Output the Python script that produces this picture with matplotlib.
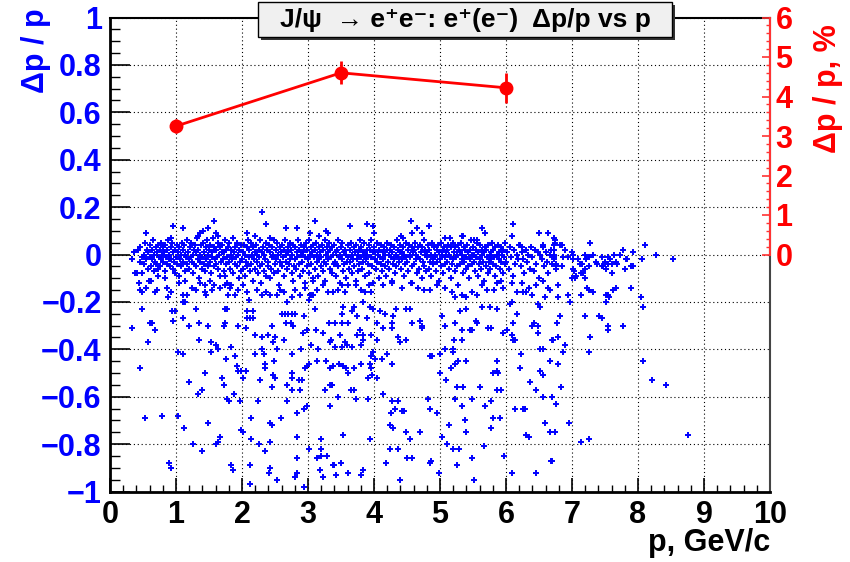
import matplotlib
matplotlib.use("Agg")
import matplotlib.pyplot as plt
from matplotlib.patches import Rectangle
import numpy as np

plt.rcParams['font.family'] = ['Liberation Sans', 'DejaVu Sans']
plt.rcParams['font.weight'] = 'bold'

# dense band around dp/p = 0  (p, dp/p)
band_pts = [
(0.34,-0.02),(0.37,0.01),(0.41,-0.08),(0.43,0.02),(0.45,-0.03),(0.46,0.03),(0.48,-0.01),(0.49,-0.08),
(0.51,0.00),(0.52,-0.04),(0.53,0.05),(0.55,-0.02),(0.56,0.02),(0.57,-0.06),(0.58,0.01),(0.59,-0.11),(0.55,-0.14),
(0.60,-0.01),(0.61,0.04),(0.62,-0.05),(0.63,0.02),(0.64,-0.02),(0.65,0.06),(0.66,-0.07),(0.67,0.00),(0.68,-0.03),(0.69,0.03),
(0.70,-0.04),(0.71,0.01),(0.72,-0.09),(0.73,0.04),(0.74,-0.01),(0.75,0.02),(0.76,-0.05),(0.77,0.05),(0.78,-0.02),(0.79,0.00),(0.73,-0.06),
(0.80,0.03),(0.81,-0.03),(0.82,0.01),(0.83,-0.07),(0.84,0.04),(0.85,-0.01),(0.86,0.02),(0.87,-0.04),(0.88,0.06),(0.89,-0.02),(0.84,-0.10),
(0.90,0.00),(0.91,-0.05),(0.92,0.03),(0.93,-0.02),(0.94,0.05),(0.95,-0.06),(0.96,0.01),(0.97,-0.03),(0.98,0.02),(0.99,-0.08),(0.93,0.07),
(1.00,-0.01),(1.01,0.04),(1.02,-0.04),(1.03,0.01),(1.04,-0.09),(1.05,0.03),(1.06,-0.02),(1.07,0.00),(1.08,-0.05),(1.09,0.05),(1.05,-0.12),
(1.10,0.02),(1.11,-0.03),(1.12,0.04),(1.13,-0.07),(1.14,0.00),(1.15,-0.01),(1.16,0.06),(1.17,-0.04),(1.18,0.01),(1.19,-0.02),(1.14,-0.11),
(1.20,-0.06),(1.21,0.03),(1.22,-0.01),(1.23,0.05),(1.24,-0.03),(1.25,0.00),(1.26,-0.08),(1.27,0.02),(1.28,-0.04),(1.29,0.04),
(1.30,0.01),(1.31,-0.05),(1.32,0.07),(1.33,-0.02),(1.34,0.02),(1.35,-0.10),(1.36,0.00),(1.37,-0.03),(1.38,0.04),(1.39,-0.06),(1.33,0.08),
(1.40,-0.01),(1.41,0.05),(1.42,-0.04),(1.43,0.01),(1.44,-0.07),(1.45,0.03),(1.46,-0.02),(1.47,0.06),(1.48,-0.05),(1.49,0.00),(1.44,-0.13),
(1.50,0.02),(1.51,-0.03),(1.52,0.04),(1.53,-0.08),(1.54,0.01),(1.55,-0.01),(1.56,0.07),(1.57,-0.05),(1.58,0.03),(1.59,-0.02),(1.52,-0.11),
(1.60,-0.04),(1.61,0.02),(1.62,-0.01),(1.63,0.05),(1.64,-0.06),(1.65,0.00),(1.66,-0.09),(1.67,0.03),(1.68,-0.03),(1.69,0.01),(1.64,0.08),
(1.70,0.04),(1.71,-0.02),(1.72,0.01),(1.73,-0.07),(1.74,0.06),(1.75,-0.04),(1.76,0.02),(1.77,-0.01),(1.78,-0.12),(1.79,0.03),(1.74,-0.09),
(1.80,-0.03),(1.81,0.05),(1.82,-0.06),(1.83,0.00),(1.84,0.02),(1.85,-0.02),(1.86,0.07),(1.87,-0.08),(1.88,0.01),(1.89,-0.04),(1.83,-0.13),
(1.90,0.03),(1.91,-0.01),(1.92,0.05),(1.93,-0.05),(1.94,0.00),(1.95,-0.10),(1.96,0.02),(1.97,-0.03),(1.98,0.04),(1.99,-0.07),
(2.00,-0.02),(2.01,0.01),(2.02,-0.06),(2.03,0.04),(2.04,-0.09),(2.05,0.00),(2.06,-0.03),(2.07,0.03),(2.08,-0.05),(2.09,0.06),
(2.10,-0.01),(2.11,0.02),(2.12,-0.07),(2.13,0.05),(2.14,-0.04),(2.15,0.00),(2.16,-0.11),(2.17,0.03),(2.18,-0.02),(2.19,0.01),
(2.20,-0.06),(2.21,0.04),(2.22,-0.03),(2.23,0.00),(2.24,-0.08),(2.25,0.02),(2.26,-0.01),(2.27,0.06),(2.28,-0.05),(2.29,-0.12),
(2.30,0.01),(2.31,-0.04),(2.32,0.03),(2.33,-0.07),(2.34,0.00),(2.35,-0.02),(2.36,0.05),(2.37,-0.09),(2.38,0.02),(2.39,-0.05),
(2.40,-0.03),(2.41,0.04),(2.42,-0.10),(2.43,0.01),(2.44,-0.06),(2.45,0.03),(2.46,-0.01),(2.47,0.00),(2.48,-0.08),(2.49,0.06),
(2.50,-0.04),(2.51,0.02),(2.52,-0.02),(2.53,0.05),(2.54,-0.07),(2.55,0.00),(2.56,-0.13),(2.57,0.03),(2.58,-0.03),(2.59,0.01),
(2.60,-0.05),(2.61,0.04),(2.62,-0.01),(2.63,0.02),(2.64,-0.09),(2.65,0.06),(2.66,-0.03),(2.67,0.00),(2.68,-0.06),(2.69,0.03),
(2.70,0.01),(2.71,-0.04),(2.72,0.05),(2.73,-0.02),(2.74,0.02),(2.75,-0.08),(2.76,0.00),(2.77,-0.11),(2.78,0.04),(2.79,-0.05),
(2.80,-0.02),(2.81,0.03),(2.82,-0.06),(2.83,0.01),(2.84,-0.01),(2.85,0.06),(2.86,-0.04),(2.87,0.02),(2.88,-0.09),(2.89,0.00),
(2.90,0.04),(2.91,-0.03),(2.92,0.01),(2.93,-0.07),(2.94,0.03),(2.95,-0.01),(2.96,-0.12),(2.97,0.05),(2.98,-0.05),(2.99,0.02),
(3.00,-0.02),(3.01,0.06),(3.02,-0.08),(3.03,0.00),(3.04,0.03),(3.05,-0.04),(3.06,0.01),(3.07,-0.10),(3.08,0.04),(3.09,-0.01),
(3.10,0.02),(3.11,-0.06),(3.12,0.05),(3.13,-0.03),(3.14,0.00),(3.15,-0.09),(3.16,0.03),(3.17,-0.02),(3.18,0.01),(3.19,-0.05),
(3.20,-0.01),(3.21,0.04),(3.22,-0.07),(3.23,0.02),(3.24,-0.03),(3.25,0.06),(3.26,-0.11),(3.27,0.00),(3.28,-0.04),(3.29,0.03),
(3.30,0.01),(3.31,-0.02),(3.32,0.05),(3.33,-0.06),(3.34,0.02),(3.35,-0.01),(3.36,0.03),(3.37,-0.08),(3.38,0.00),(3.39,-0.04),
(3.40,0.04),(3.41,-0.03),(3.42,0.01),(3.43,-0.09),(3.44,0.02),(3.45,-0.05),(3.46,0.06),(3.47,-0.01),(3.48,0.00),(3.49,-0.12),
(3.50,0.03),(3.51,-0.02),(3.52,0.05),(3.53,-0.07),(3.54,0.01),(3.55,-0.04),(3.56,0.02),(3.57,-0.10),(3.58,0.00),(3.59,-0.03),
(3.60,0.04),(3.61,-0.01),(3.62,-0.06),(3.63,0.02),(3.64,-0.03),(3.65,0.05),(3.66,-0.08),(3.67,0.00),(3.68,-0.02),(3.69,0.03),
(3.70,-0.05),(3.71,0.01),(3.72,-0.11),(3.73,0.04),(3.74,-0.02),(3.75,0.00),(3.76,-0.07),(3.77,0.02),(3.78,-0.04),(3.79,0.06),
(3.80,-0.01),(3.81,0.03),(3.82,-0.06),(3.83,0.01),(3.84,-0.03),(3.85,0.05),(3.86,-0.09),(3.87,0.00),(3.88,-0.02),(3.89,0.02),
(3.90,0.00),(3.91,-0.04),(3.92,0.04),(3.93,-0.08),(3.94,0.02),(3.95,-0.01),(3.96,0.06),(3.97,-0.05),(3.98,0.01),(3.99,-0.12),
(4.00,0.03),(4.01,-0.02),(4.02,0.01),(4.03,-0.06),(4.04,0.05),(4.05,-0.03),(4.06,0.00),(4.07,-0.10),(4.08,0.02),(4.09,-0.01),
(4.10,-0.04),(4.11,0.04),(4.12,-0.07),(4.13,0.01),(4.14,-0.02),(4.15,0.03),(4.16,-0.05),(4.17,0.00),(4.18,-0.09),(4.19,0.02),
(4.20,0.05),(4.21,-0.03),(4.22,0.00),(4.23,-0.06),(4.24,0.02),(4.25,-0.01),(4.26,0.04),(4.27,-0.11),(4.28,0.01),(4.29,-0.04),
(4.30,-0.02),(4.31,0.03),(4.32,-0.08),(4.33,0.00),(4.34,-0.05),(4.35,0.06),(4.36,-0.01),(4.37,0.02),(4.38,-0.03),(4.39,0.01),
(4.40,0.04),(4.41,-0.06),(4.42,0.01),(4.43,-0.02),(4.44,0.03),(4.45,-0.09),(4.46,0.00),(4.47,-0.04),(4.48,0.05),(4.49,-0.01),
(4.50,-0.03),(4.51,0.02),(4.52,-0.07),(4.53,0.04),(4.54,-0.01),(4.55,0.00),(4.56,-0.12),(4.57,0.03),(4.58,-0.05),(4.59,0.01),
(4.60,0.02),(4.61,-0.04),(4.62,0.05),(4.63,-0.02),(4.64,0.00),(4.65,-0.08),(4.66,0.03),(4.67,-0.01),(4.68,-0.06),(4.69,0.04),
(4.70,-0.02),(4.71,0.01),(4.72,-0.10),(4.73,0.03),(4.74,-0.03),(4.75,0.06),(4.76,-0.05),(4.77,0.00),(4.78,0.02),(4.79,-0.07),
(4.80,0.01),(4.81,-0.01),(4.82,0.04),(4.83,-0.06),(4.84,0.02),(4.85,-0.03),(4.86,0.00),(4.87,-0.09),(4.88,0.05),(4.89,-0.02),
(4.90,-0.04),(4.91,0.03),(4.92,-0.01),(4.93,0.00),(4.94,-0.07),(4.95,0.02),(4.96,-0.03),(4.97,0.04),(4.98,-0.11),(4.99,0.01),
(5.00,-0.02),(5.01,0.05),(5.02,-0.05),(5.03,0.00),(5.04,0.02),(5.05,-0.08),(5.06,0.03),(5.07,-0.01),(5.08,-0.04),(5.09,0.01),
(5.10,0.02),(5.11,-0.03),(5.12,0.04),(5.13,-0.06),(5.14,0.00),(5.15,-0.01),(5.16,-0.10),(5.17,0.03),(5.18,-0.04),(5.19,0.05),
(5.20,-0.02),(5.21,0.01),(5.22,-0.07),(5.23,0.03),(5.24,-0.01),(5.25,0.00),(5.26,-0.05),(5.27,0.04),(5.28,-0.13),(5.29,0.02),
(5.30,0.01),(5.31,-0.04),(5.32,0.05),(5.33,-0.02),(5.34,0.00),(5.35,-0.08),(5.36,0.03),(5.37,-0.03),(5.38,0.02),(5.39,-0.06),
(5.40,-0.01),(5.41,0.04),(5.42,-0.05),(5.43,0.01),(5.44,-0.10),(5.45,0.02),(5.46,-0.02),(5.47,0.06),(5.48,-0.04),(5.49,0.00),
(5.50,0.03),(5.51,-0.03),(5.52,0.00),(5.53,-0.07),(5.54,0.02),(5.55,-0.01),(5.56,0.05),(5.57,-0.09),(5.58,0.01),(5.59,-0.04),
(5.60,-0.02),(5.61,0.04),(5.62,-0.06),(5.63,0.00),(5.64,0.02),(5.65,-0.03),(5.66,0.01),(5.67,-0.11),(5.68,0.03),(5.69,-0.05),
(5.70,0.02),(5.71,-0.01),(5.72,-0.08),(5.73,0.04),(5.74,-0.03),(5.75,0.00),(5.76,-0.06),(5.77,0.01),(5.78,-0.02),(5.79,0.05),
(5.80,-0.04),(5.81,0.02),(5.82,-0.01),(5.83,-0.09),(5.84,0.03),(5.85,-0.05),(5.86,0.00),(5.87,-0.12),(5.88,0.04),(5.89,-0.02),
(5.90,0.01),(5.91,-0.06),(5.92,0.03),(5.93,-0.03),(5.94,0.00),(5.95,-0.08),(5.96,0.02),(5.97,-0.01),(5.98,-0.04),(5.99,0.05),
(6.00,-0.03),(6.02,0.01),(6.04,-0.06),(6.06,0.03),(6.08,-0.01),(6.10,-0.09),(6.12,0.02),(6.14,-0.04),(6.16,0.00),(6.18,-0.02),
(6.20,0.04),(6.22,-0.05),(6.24,0.01),(6.26,-0.02),(6.28,-0.08),(6.30,0.02),(6.32,-0.03),(6.34,0.00),(6.36,-0.06),(6.38,0.03),
(6.40,-0.01),(6.42,-0.07),(6.44,0.02),(6.46,-0.04),(6.48,0.01),(6.50,-0.10),(6.52,0.00),(6.54,-0.02),(6.56,0.03),(6.58,-0.05),
(6.60,0.01),(6.62,-0.03),(6.64,-0.08),(6.66,0.00),(6.68,0.02),(6.70,-0.04),(6.72,-0.01),(6.74,0.05),(6.76,-0.06),
]

# points above the band
high_pts = [
(0.95,0.12),(0.54,0.09),(1.10,0.11),(1.57,0.14),(1.37,0.09),(1.41,0.10),(1.48,0.11),(1.60,0.09),(2.30,0.18),
(2.36,0.13),(2.07,0.09),(2.20,0.08),(2.42,0.07),(2.66,0.11),(2.83,0.11),(3.11,0.14),(3.27,0.10),(3.31,0.09),
(3.03,0.09),(3.16,0.08),(3.63,0.12),(3.90,0.13),(3.99,0.12),(4.00,0.09),(4.56,0.14),(4.65,0.11),(4.72,0.09),
(4.83,0.12),(4.57,0.09),(4.41,0.08),(4.44,0.07),(5.08,0.07),(5.15,0.07),(5.33,0.08),(5.35,0.08),(5.64,0.11),
(5.68,0.09),(5.56,0.06),(5.52,0.06),(6.10,0.13),(6.09,0.08),(6.21,0.04),(6.24,0.03),(6.50,0.09),(6.63,0.09),
(6.56,0.04),(6.72,0.07),(6.74,0.06),(6.82,0.04),(6.85,0.04),(6.90,0.02),(7.28,0.05),(7.78,0.02),(7.92,0.01),
(8.11,0.04),(8.28,0.00),(8.53,-0.02),(8.06,-0.02),
]

# tail towards negative dp/p
tail_pts = [
(0.38,-0.08),(0.44,-0.12),(0.46,-0.15),(0.49,-0.16),(0.62,-0.11),(0.68,-0.16),(0.71,-0.15),(0.86,-0.14),
(0.88,-0.18),(0.93,-0.16),(1.04,-0.12),(1.10,-0.17),(1.16,-0.17),(1.14,-0.20),(1.24,-0.14),(1.31,-0.15),
(1.36,-0.12),(1.44,-0.16),(1.46,-0.17),(1.54,-0.15),(1.57,-0.13),(1.67,-0.14),(1.74,-0.13),(1.79,-0.17),
(1.82,-0.14),(1.89,-0.17),(1.94,-0.15),(2.02,-0.13),(2.07,-0.16),(2.10,-0.19),(2.22,-0.15),(2.30,-0.17),
(2.37,-0.16),(2.42,-0.17),(2.53,-0.17),(2.58,-0.15),(2.63,-0.16),(2.68,-0.20),(2.75,-0.18),(2.80,-0.15),
(2.88,-0.17),(2.95,-0.14),(3.01,-0.19),(3.08,-0.11),(3.13,-0.15),(3.23,-0.13),(3.31,-0.16),
(0.33,-0.31),(0.49,-0.23),(0.60,-0.29),(0.63,-0.29),(0.68,-0.32),(0.57,-0.37),(0.46,-0.48),(0.53,-0.69),
(0.79,-0.68),(0.90,-0.88),(0.92,-0.90),(0.94,-0.24),(0.98,-0.24),(0.95,-0.28),(1.03,-0.41),(1.10,-0.42),
(1.03,-0.68),(1.12,-0.73),(1.19,-0.54),(1.19,-0.30),(1.10,-0.27),(1.11,-0.20),(1.26,-0.80),(1.35,-0.36),
(1.35,-0.29),(1.30,-0.23),(1.39,-0.83),(1.34,-0.59),(1.39,-0.57),(1.44,-0.50),(1.48,-0.71),(1.48,-0.30),
(1.53,-0.37),(1.53,-0.41),(1.61,-0.38),(1.63,-0.40),(1.60,-0.80),(1.63,-0.79),(1.67,-0.77),(1.69,-0.52),
(1.72,-0.55),(1.75,-0.44),(1.77,-0.61),(1.81,-0.62),(1.88,-0.59),(1.83,-0.89),(1.87,-0.91),(1.84,-0.39),
(1.72,-0.30),(1.74,-0.29),(1.74,-0.23),(1.78,-0.23),(1.94,-0.30),(1.90,-0.43),(1.92,-0.47),(1.94,-0.49),
(1.98,-0.49),(1.97,-0.62),(1.98,-0.74),(2.01,-0.75),(2.02,-0.52),(2.06,-0.49),(2.08,-0.24),(2.17,-0.24),
(2.06,-0.31),(2.07,-0.27),(2.12,-0.27),(2.17,-0.27),(2.20,-0.34),(2.19,-0.42),(2.13,-0.69),(2.13,-0.78),
(2.12,-0.89),(2.12,-0.97),(2.24,-0.62),(2.26,-0.80),(2.28,-0.53),(2.30,-0.35),(2.31,-0.40),(2.33,-0.42),
(2.35,-0.46),(2.35,-0.48),(2.35,-0.83),(2.42,-0.71),(2.45,-0.72),(2.42,-0.79),(2.42,-0.90),(2.41,-0.92),
(2.46,-0.56),(2.47,-0.51),(2.50,-0.52),(2.49,-0.45),(2.47,-0.37),(2.40,-0.34),(2.45,-0.30),(2.50,-0.35),
(2.53,-0.40),(2.53,-0.95),(2.59,-0.69),(2.61,-0.25),(2.65,-0.25),(2.70,-0.25),(2.75,-0.25),(2.80,-0.25),
(2.63,-0.36),(2.66,-0.29),(2.68,-0.62),(2.68,-0.55),(2.75,-0.50),(2.75,-0.52),(2.75,-0.42),(2.74,-0.29),
(2.77,-0.30),(2.76,-0.57),(2.83,-0.86),(2.84,-0.67),(2.84,-0.77),(2.83,-0.92),(2.81,-0.94),(2.86,-0.53),
(2.91,-0.53),(2.88,-0.57),(2.90,-0.40),(2.94,-0.65),(2.98,-0.64),(2.94,-0.98),(2.93,-0.33),(2.98,-0.32),
(2.94,-0.26),(2.96,-0.48),(2.98,-0.47),(3.01,-0.46),(3.02,-0.82),(3.03,-0.17),(3.05,-0.17),(3.08,-0.17),
(3.05,-0.38),(3.10,-0.23),(3.12,-0.32),(3.15,-0.40),(3.14,-0.45),(3.19,-0.78),(3.19,-0.82),(3.19,-0.85),
(3.22,-0.94),(3.14,-0.86),(3.18,-0.91),(3.29,-0.85),(3.28,-0.45),(3.33,-0.48),(3.33,-0.64),(3.33,-0.55),
(3.37,-0.55),(3.25,-0.57),(3.33,-0.37),(3.38,-0.89),(3.32,-0.29),(3.22,-0.33),
(3.38,-0.16),(3.46,-0.15),(3.51,-0.13),(3.56,-0.16),(3.61,-0.13),(3.73,-0.13),(3.81,-0.15),(3.86,-0.16),
(3.93,-0.13),(3.95,-0.16),(3.53,-0.22),(3.69,-0.22),(3.84,-0.20),(3.94,-0.22),(3.51,-0.25),(3.66,-0.24),
(3.74,-0.26),(3.89,-0.27),(3.99,-0.23),(4.09,-0.24),(4.17,-0.25),(4.29,-0.26),(4.34,-0.23),(4.49,-0.23),
(4.54,-0.23),(3.41,-0.29),(3.51,-0.29),(3.61,-0.29),(3.79,-0.32),(3.74,-0.34),(3.84,-0.34),(3.96,-0.34),
(4.04,-0.29),(4.14,-0.31),(4.28,-0.29),(4.28,-0.31),(3.48,-0.34),(3.56,-0.37),(3.59,-0.38),(3.84,-0.36),
(3.81,-0.38),(4.04,-0.36),(4.37,-0.35),(4.39,-0.37),(4.49,-0.36),(4.57,-0.29),(4.70,-0.28),(4.72,-0.30),
(4.72,-0.31),(3.35,-0.36),(3.41,-0.39),(3.51,-0.39),(3.66,-0.39),(3.95,-0.43),(3.98,-0.41),(4.02,-0.44),
(4.12,-0.44),(4.19,-0.42),(4.27,-0.46),(3.38,-0.47),(3.47,-0.46),(3.53,-0.47),(3.58,-0.48),(3.61,-0.50),
(3.70,-0.48),(3.80,-0.46),(3.94,-0.46),(3.96,-0.48),(3.91,-0.52),(4.04,-0.52),(3.36,-0.55),(3.65,-0.57),
(3.70,-0.57),(3.97,-0.51),(3.46,-0.60),(3.73,-0.61),(3.91,-0.61),(4.14,-0.59),(4.27,-0.62),(4.32,-0.65),
(4.37,-0.62),(4.42,-0.66),(4.45,-0.66),(4.26,-0.67),(4.24,-0.72),(4.29,-0.73),(4.49,-0.75),(4.54,-0.78),
(4.69,-0.75),(4.82,-0.61),(4.85,-0.65),(4.95,-0.67),(3.53,-0.76),(3.94,-0.78),(4.24,-0.82),(4.37,-0.82),
(4.18,-0.88),(4.50,-0.86),(4.57,-0.86),(4.40,-0.95),(4.85,-0.88),(4.87,-0.87),(4.99,-0.92),(5.03,-0.77),
(5.00,-0.50),(3.39,-0.89),(3.42,-0.93),(3.50,-0.88),(3.61,-0.92),(3.80,-0.93),(3.84,-0.91),
(4.85,-0.43),(4.88,-0.43),(5.00,-0.42),(5.08,-0.40),(5.20,-0.41),(5.23,-0.46),(5.16,-0.48),(5.28,-0.45),
(5.39,-0.45),(5.09,-0.53),(5.25,-0.56),(5.35,-0.56),(5.60,-0.56),(5.23,-0.61),(5.48,-0.61),(5.34,-0.64),
(5.68,-0.64),(5.78,-0.62),(5.81,-0.69),(5.91,-0.69),(5.78,-0.73),(5.38,-0.70),(5.39,-0.75),(5.13,-0.72),
(5.10,-0.80),(5.20,-0.82),(5.29,-0.82),(5.48,-0.86),(5.67,-0.81),(5.97,-0.85),(5.25,-0.89),(5.52,-0.95),
(6.09,-0.92),(6.45,-0.92),(5.03,-0.26),(5.08,-0.30),(5.22,-0.29),(5.30,-0.24),(5.33,-0.32),(5.45,-0.32),
(5.49,-0.32),(5.40,-0.23),(5.56,-0.29),(5.54,-0.28),(5.72,-0.31),(5.78,-0.31),(5.63,-0.22),(5.76,-0.22),
(5.86,-0.23),(5.96,-0.33),(6.01,-0.32),(5.96,-0.14),(5.93,-0.11),(5.86,-0.49),(5.88,-0.50),(5.81,-0.50),
(5.86,-0.45),(5.86,-0.57),(5.93,-0.57),(5.21,-0.36),(5.34,-0.36),(5.19,-0.40),(6.06,-0.21),(6.09,-0.20),
(6.16,-0.25),(6.10,-0.29),(6.11,-0.36),(6.14,-0.36),(6.09,-0.34),(6.23,-0.42),(6.21,-0.48),(6.36,-0.54),
(6.46,-0.57),(6.51,-0.49),(6.56,-0.51),(6.67,-0.45),(6.69,-0.36),(6.56,-0.40),(6.51,-0.22),(6.49,-0.21),
(6.40,-0.30),(6.42,-0.29),(6.49,-0.30),(6.59,-0.18),(6.63,-0.14),(6.67,-0.15),(6.26,-0.65),(6.29,-0.65),
(6.14,-0.65),(6.31,-0.76),(6.35,-0.77),(6.59,-0.71),(6.67,-0.75),(6.69,-0.87),(6.56,-0.60),(6.69,-0.60),
(6.35,-0.14),(6.39,-0.17),(6.31,-0.16),(6.25,-0.16),(6.49,-0.33),(6.51,-0.40),
(4.14,-0.13),(4.27,-0.12),(4.42,-0.14),(4.57,-0.12),(4.67,-0.14),(4.75,-0.15),(4.85,-0.15),(4.95,-0.13),
(5.08,-0.14),(5.18,-0.16),(5.23,-0.18),(5.33,-0.17),(5.40,-0.18),(5.48,-0.16),(5.56,-0.17),(5.63,-0.13),
(5.71,-0.15),(5.82,-0.15),(6.09,-0.12),(6.16,-0.16),(6.24,-0.12),(6.46,-0.13),(6.56,-0.11),
(6.73,0.04),(6.72,0.02),(6.72,0.00),(6.73,-0.02),(6.76,-0.04),(6.76,-0.05),(6.85,-0.05),(6.87,-0.01),
(6.94,-0.01),(7.00,0.01),(7.02,0.00),(7.02,-0.02),(7.01,-0.06),(7.03,-0.07),(7.00,-0.10),(7.06,-0.09),
(7.05,-0.10),(7.09,-0.02),(7.12,-0.04),(7.15,-0.04),(7.14,-0.08),(7.17,-0.08),(7.20,-0.10),(7.20,-0.06),
(7.21,-0.02),(7.20,0.00),(7.25,-0.05),(7.26,-0.01),(7.32,0.00),(7.36,-0.03),(7.45,-0.01),(7.45,-0.05),
(7.47,-0.05),(7.38,-0.04),(7.50,-0.03),(7.54,-0.01),(7.55,-0.04),(7.58,-0.02),(7.61,-0.04),(7.64,0.00),
(7.67,-0.03),(7.68,-0.04),(7.73,0.00),(7.82,-0.02),(7.84,-0.02),(7.80,-0.06),(7.90,-0.05),(7.92,-0.05),
(7.60,-0.08),(7.52,-0.06),(7.22,-0.14),(7.25,-0.15),(7.14,-0.17),(7.32,-0.16),(7.51,-0.17),(7.54,-0.17),
(7.56,-0.18),(7.62,-0.15),(7.67,-0.14),(7.52,-0.20),(7.89,-0.14),(8.05,-0.18),(8.07,-0.22),(6.79,-0.13),
(6.79,-0.18),(6.94,-0.17),(6.97,-0.20),(6.82,-0.26),(6.77,-0.29),(7.20,-0.26),(7.41,-0.26),(7.45,-0.27),
(7.54,-0.30),(7.54,-0.32),(7.78,-0.30),(6.71,-0.36),(6.79,-0.35),(6.90,-0.38),(6.87,-0.41),(7.28,-0.35),
(7.25,-0.41),(6.67,-0.45),(6.79,-0.46),(6.84,-0.56),(8.07,-0.45),(8.21,-0.53),(8.43,-0.55),(6.69,-0.60),
(6.76,-0.63),(6.96,-0.71),(6.67,-0.75),(6.74,-0.75),(7.25,-0.78),(7.14,-0.79),(8.76,-0.76),(6.68,-0.87),
]

# resolution points (right axis, %)
res_p = [1.0, 3.5, 6.0]
res_val = [3.25, 4.60, 4.22]
res_err = [0.17, 0.29, 0.38]

y_ticks = [-1, -0.8, -0.6, -0.4, -0.2, 0, 0.2, 0.4, 0.6, 0.8, 1]
y_labels = ['\u22121', '\u22120.8', '\u22120.6', '\u22120.4', '\u22120.2', '0', '0.2', '0.4', '0.6', '0.8', '1']
x_ticks = list(range(0, 11))
r_ticks = list(range(0, 7))

fig = plt.figure(figsize=(8.5, 5.62), dpi=100)
ax = fig.add_axes([110/850, 1-491.5/562, 660/850, 474/562])

allp = [q[0] for q in band_pts + high_pts + tail_pts]
alld = [q[1] for q in band_pts + high_pts + tail_pts]
ax.plot(allp, alld, '+', color='#0000ff', ms=4.5, mew=1.4, zorder=3)

ax.set_xlim(0, 10)
ax.set_ylim(-1, 1)
ax.set_xticks(x_ticks)
ax.set_xticklabels([str(t) for t in x_ticks])
ax.set_xticks(np.arange(0, 10.01, 0.2), minor=True)
ax.set_yticks(y_ticks)
ax.set_yticklabels(y_labels)
ax.set_yticks(np.arange(-1, 1.001, 0.05), minor=True)
ax.grid(True, which='major', color='black', linestyle=(0, (1, 2.5)), linewidth=0.8)
ax.set_axisbelow(True)

ax.tick_params(axis='x', which='major', direction='in', length=10, width=1.2, labelsize=22, pad=6, top=False)
ax.tick_params(axis='x', which='minor', direction='in', length=5, width=1.0, top=False)
ax.tick_params(axis='y', which='major', direction='in', length=14.5, width=1.2, labelsize=22,
               labelcolor='#0000ff', pad=6, right=False)
ax.tick_params(axis='y', which='minor', direction='in', length=7.5, width=1.0, right=False)
for lab in ax.get_xticklabels() + ax.get_yticklabels():
    lab.set_fontweight('bold')
for s in ['left', 'bottom']:
    ax.spines[s].set_linewidth(2)
ax.spines['top'].set_linewidth(1.5)
ax.spines['right'].set_linewidth(1.5)
ax.spines['right'].set_color('#444444')

ax2 = ax.twinx()
ax2.set_ylim(-6, 6)
ax2.errorbar(res_p, res_val, yerr=res_err, fmt='-o', color='red', ms=9, lw=2,
             elinewidth=2, capsize=0, zorder=5)
ax2.set_yticks(r_ticks)
ax2.set_yticklabels([str(t) for t in r_ticks])
ax2.set_yticks(np.arange(0, 6.01, 0.2), minor=True)
ax2.tick_params(axis='y', which='major', direction='in', length=5.5, width=1.2, color='#ff3333',
                labelsize=22, labelcolor='red', pad=4)
ax2.tick_params(axis='y', which='minor', direction='in', length=3, width=1.0, color='#ff3333')
for lab in ax2.get_yticklabels():
    lab.set_fontweight('bold')
for s in ['left', 'top', 'bottom']:
    ax2.spines[s].set_visible(False)
ax2.spines['right'].set_bounds(0, 6)
ax2.spines['right'].set_color('#ff3333')
ax2.spines['right'].set_linewidth(1.5)

fig.text(36/850, 1-8/562, '\u0394p / p', rotation=90, ha='center', va='top',
         fontsize=22, fontweight='bold', color='#0000ff')
fig.text(828/850, 1-24/562, '\u0394p / p, %', rotation=90, ha='center', va='top',
         fontsize=22, fontweight='bold', color='red')
fig.text(770/850, 1-543/562, 'p, GeV/c', ha='right', va='center',
         fontsize=22, fontweight='bold', color='black')

# title box with shadow
bx0, bx1, by0, by1 = 258, 672, 2, 37
fig.patches.append(Rectangle((bx0/850 + 3/850, 1-(by1+3)/562), (bx1-bx0)/850, (by1-by0)/562,
                             transform=fig.transFigure, facecolor='#333333', edgecolor='none', zorder=10))
fig.patches.append(Rectangle((bx0/850, 1-by1/562), (bx1-bx0)/850, (by1-by0)/562,
                             transform=fig.transFigure, facecolor='#f0f0f0', edgecolor='black', lw=1, zorder=11))
fig.text((bx0+bx1)/2/850, 1-(by0+by1)/2/562,
         'J/\u03c8  \u2192 e\u207ae\u207b: e\u207a(e\u207b)  \u0394p/p vs p',
         ha='center', va='center', fontsize=19, fontweight='bold', zorder=12)

fig.savefig('out.png', dpi=100)
